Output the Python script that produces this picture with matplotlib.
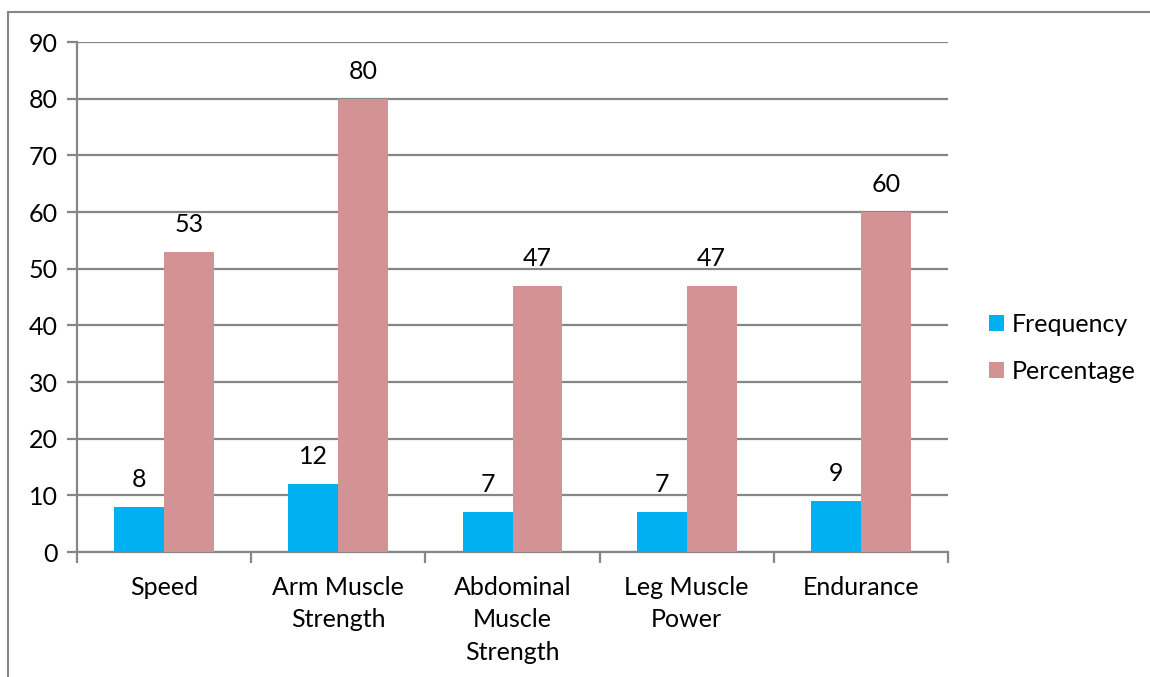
import numpy as np
import matplotlib.pyplot as plt
from matplotlib.patches import Rectangle

plt.rcParams['font.family'] = ['Lato', 'DejaVu Sans']

categories = ['Speed', 'Arm Muscle\nStrength', 'Abdominal\nMuscle\nStrength',
              'Leg Muscle\nPower', 'Endurance']
frequency = [8, 12, 7, 7, 9]
percentage = [53, 80, 47, 47, 60]

blue = '#00B0F0'
pink = '#D39293'
grid_gray = '#868686'
fs = 18

fig = plt.figure(figsize=(11.5, 6.77), dpi=100)
W, H = 1150, 677
ax = fig.add_axes([77 / W, 1 - 552 / H, (948 - 77) / W, (552 - 42) / H])

# outer chart frame (right/bottom edges fall outside the canvas)
fig.patches.append(Rectangle((8 / W, -0.1), 1.2, 1 - 12 / H + 0.1,
                             transform=fig.transFigure, fill=False,
                             edgecolor=grid_gray, linewidth=1.5))

x = np.arange(len(categories))
bw = 0.287
b1 = ax.bar(x - bw / 2, frequency, bw, color=blue, label='Frequency', zorder=3)
b2 = ax.bar(x + bw / 2, percentage, bw, color=pink, label='Percentage', zorder=3)

for bars, vals in ((b1, frequency), (b2, percentage)):
    for rect, v in zip(bars, vals):
        ax.annotate(str(v), (rect.get_x() + rect.get_width() / 2, v),
                    xytext=(0, 16), textcoords='offset pixels',
                    ha='center', va='bottom', fontsize=fs)

ax.set_xlim(-0.5, len(categories) - 0.5)
ax.set_ylim(0, 90)
ax.set_yticks(range(0, 91, 10))
ax.yaxis.grid(True, color=grid_gray, linewidth=1.6, zorder=0)
ax.set_axisbelow(True)

for side in ('top', 'right'):
    ax.spines[side].set_visible(False)
for side in ('left', 'bottom'):
    ax.spines[side].set_color(grid_gray)
    ax.spines[side].set_linewidth(1.6)

ax.set_xticks(x)
ax.set_xticklabels(categories, fontsize=fs, linespacing=1.5, va='top')
ax.tick_params(axis='x', length=0, pad=17)
ax.set_xticks(np.arange(-0.5, len(categories)), minor=True)
ax.tick_params(axis='x', which='minor', length=8, width=1.6, color=grid_gray)
ax.tick_params(axis='y', length=7, width=1.6, color=grid_gray, labelsize=fs, pad=7)

ax.legend(loc='center left', bbox_to_anchor=(976 / W, 1 - 348 / H),
          bbox_transform=fig.transFigure, frameon=False, fontsize=fs,
          handlelength=0.6, handleheight=0.6, handletextpad=0.35,
          labelspacing=0.95, borderpad=0)

fig.savefig('out.png', dpi=100)
